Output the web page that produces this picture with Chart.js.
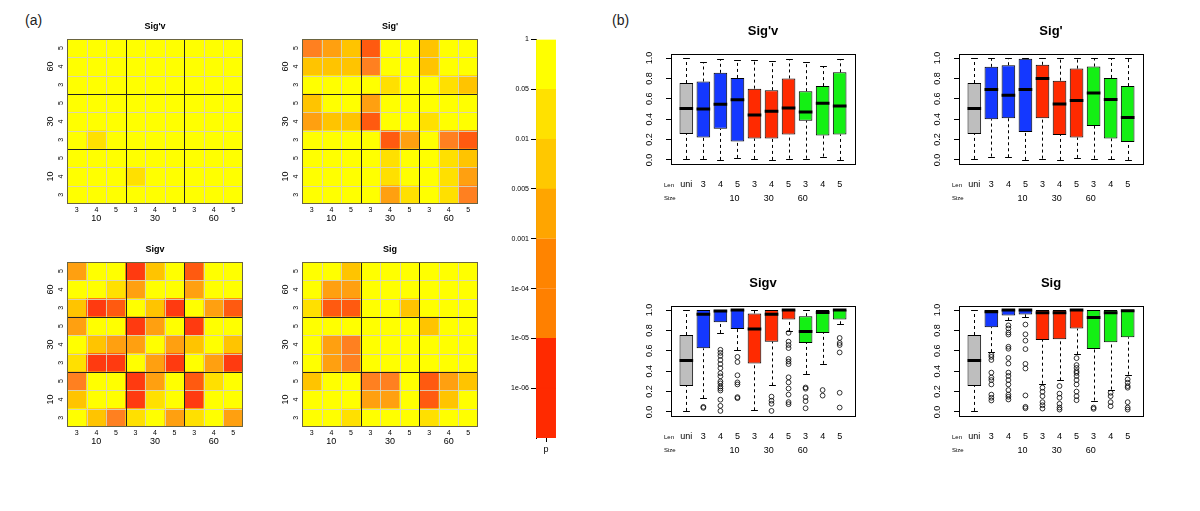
<!DOCTYPE html>
<html>
<head>
<meta charset="utf-8">
<script src="https://cdn.jsdelivr.net/npm/chart.js@4.4.1/dist/chart.umd.min.js"></script>
<style>
  body { margin: 0; background: #fff; width: 1200px; height: 511px; position: relative; overflow: hidden;
         font-family: "Liberation Sans", Arial, sans-serif; }
  canvas { position: absolute; }
  .panel { position: absolute; font-size: 14px; color: #222; }
</style>
</head>
<body>
<div class="panel" style="left:25px; top:12px;">(a)</div>
<div class="panel" style="left:612px; top:12px;">(b)</div>
<script>
// ---- data ----
const groups = ['10', '30', '60'];
const lens = ['3', '4', '5'];
const heatCols = ['3', '4', '5', '3', '4', '5', '3', '4', '5'];
const boxLabels = ['uni', '3', '4', '5', '3', '4', '5', '3', '4', '5'];
const pTicks = ['1', '0.05', '0.01', '0.005', '0.001', '1e-04', '1e-05', '1e-06'];

// colour of each p class (0: p > 0.05 ... 6: p < 1e-05)
const heatColors = ['#FFFF00', '#FFE000', '#FFC400', '#FFA010', '#FF8020', '#FF5A10', '#FF3A10'];
// colour bar segments, top to bottom
const barColors = ['#FFFF00', '#FFE100', '#FFC800', '#FFA500', '#FF8400', '#FF8000', '#FF2A00', '#FF2A00'];
const boxColors = ['#BEBEBE', '#1438FF', '#1438FF', '#1438FF', '#FF2A00', '#FF2A00', '#FF2A00', '#14F014', '#14F014', '#14F014'];

// p class per cell; rows top->bottom (60/5 ... 10/3), columns left->right (10/3 ... 60/5)
const heatSigPv = [
  [0, 0, 0, 0, 0, 0, 0, 0, 0],
  [0, 0, 0, 0, 0, 0, 0, 0, 0],
  [0, 0, 0, 0, 0, 0, 0, 0, 0],
  [0, 0, 0, 0, 0, 0, 0, 0, 0],
  [0, 0, 0, 0, 0, 0, 0, 0, 0],
  [0, 1, 0, 0, 0, 0, 0, 0, 0],
  [0, 0, 0, 0, 0, 0, 0, 0, 0],
  [0, 0, 0, 1, 0, 0, 0, 0, 0],
  [0, 0, 0, 0, 0, 0, 0, 0, 0]
];
const heatSigP = [
  [4, 3, 2, 5, 0, 0, 2, 0, 0],
  [2, 2, 2, 4, 0, 0, 2, 0, 0],
  [0, 0, 0, 0, 1, 0, 0, 1, 2],
  [2, 0, 0, 3, 0, 0, 0, 0, 0],
  [3, 2, 2, 5, 0, 0, 1, 0, 0],
  [0, 0, 0, 0, 5, 3, 0, 4, 5],
  [0, 0, 0, 0, 1, 0, 0, 1, 2],
  [0, 0, 0, 0, 1, 0, 0, 1, 3],
  [0, 0, 0, 0, 3, 1, 0, 1, 4]
];
const heatSigv = [
  [3, 0, 0, 6, 2, 0, 5, 0, 0],
  [0, 0, 1, 3, 0, 0, 3, 0, 0],
  [2, 6, 5, 0, 2, 6, 0, 3, 5],
  [3, 0, 0, 6, 3, 0, 6, 0, 0],
  [0, 2, 3, 3, 0, 3, 2, 0, 2],
  [1, 6, 6, 0, 3, 6, 0, 3, 6],
  [4, 0, 0, 6, 3, 0, 5, 1, 0],
  [2, 0, 0, 6, 1, 0, 6, 0, 0],
  [0, 2, 4, 1, 0, 3, 1, 0, 3]
];
const heatSig = [
  [0, 0, 2, 0, 0, 0, 0, 0, 0],
  [0, 3, 3, 0, 0, 0, 0, 0, 0],
  [1, 5, 5, 0, 0, 2, 0, 0, 0],
  [0, 0, 0, 0, 0, 0, 2, 0, 0],
  [0, 3, 4, 0, 0, 0, 0, 0, 0],
  [0, 3, 4, 0, 0, 0, 0, 0, 0],
  [2, 0, 0, 4, 4, 0, 5, 3, 2],
  [0, 0, 0, 3, 3, 0, 5, 2, 0],
  [0, 0, 1, 0, 0, 0, 1, 0, 0]
];

// box stats: [lower whisker, Q1, median, Q3, upper whisker]
const boxSigPv = [
  [0.01, 0.255, 0.505, 0.755, 1.0],
  [0.01, 0.22, 0.50, 0.77, 0.96],
  [0.0, 0.305, 0.546, 0.855, 0.99],
  [0.02, 0.18, 0.59, 0.805, 0.98],
  [0.01, 0.21, 0.44, 0.70, 0.977],
  [0.0, 0.21, 0.477, 0.685, 0.967],
  [0.013, 0.25, 0.51, 0.80, 0.987],
  [0.013, 0.385, 0.47, 0.675, 0.96],
  [0.033, 0.24, 0.556, 0.725, 0.92],
  [0.0, 0.25, 0.53, 0.86, 0.987]
];
const boxSigP = [
  [0.01, 0.255, 0.505, 0.755, 1.0],
  [0.033, 0.40, 0.692, 0.914, 1.0],
  [0.026, 0.41, 0.636, 0.93, 1.0],
  [0.0, 0.275, 0.692, 0.993, 1.0],
  [0.013, 0.41, 0.80, 0.934, 1.0],
  [0.0, 0.245, 0.55, 0.778, 1.0],
  [0.02, 0.22, 0.583, 0.897, 1.0],
  [0.013, 0.334, 0.656, 0.917, 1.0],
  [0.007, 0.21, 0.593, 0.805, 1.0],
  [0.0, 0.175, 0.417, 0.725, 1.0]
];
const boxSigv = [
  [0.01, 0.255, 0.505, 0.755, 1.0],
  [0.135, 0.624, 0.96, 1.0, 1.0],
  [0.775, 0.88, 0.99, 1.0, 1.0],
  [0.607, 0.815, 1.0, 1.0, 1.0],
  [0.016, 0.475, 0.815, 0.967, 1.0],
  [0.26, 0.69, 0.96, 1.0, 1.0],
  [0.795, 0.908, 1.0, 1.0, 1.0],
  [0.373, 0.677, 0.79, 0.94, 1.0],
  [0.472, 0.776, 0.977, 1.0, 1.0],
  [0.861, 0.908, 1.0, 1.0, 1.0]
];
const boxSig = [
  [0.01, 0.255, 0.505, 0.755, 1.0],
  [0.587, 0.832, 0.983, 1.0, 1.0],
  [0.898, 0.947, 1.0, 1.0, 1.0],
  [0.93, 0.957, 1.0, 1.0, 1.0],
  [0.277, 0.706, 0.974, 1.0, 1.0],
  [0.31, 0.713, 0.974, 1.0, 1.0],
  [0.564, 0.818, 1.0, 1.0, 1.0],
  [0.112, 0.617, 0.927, 1.0, 1.0],
  [0.22, 0.683, 0.974, 1.0, 1.0],
  [0.366, 0.733, 0.993, 1.0, 1.0]
];

// outliers per box
const outSigPv = [[], [], [], [], [], [], [], [], [], []];
const outSigP = [[], [], [], [], [], [], [], [], [], []];
const outSigv = [
  [],
  [0.05, 0.04],
  [0.61, 0.58, 0.55, 0.51, 0.47, 0.43, 0.38, 0.35, 0.30, 0.28, 0.25, 0.23, 0.21, 0.12, 0.06, 0.01],
  [0.54, 0.49, 0.36, 0.29, 0.27, 0.145, 0.135],
  [],
  [0.15, 0.11, 0.08, 0.01],
  [0.776, 0.69, 0.657, 0.627, 0.52, 0.495, 0.47, 0.34, 0.29, 0.23, 0.17, 0.096, 0.076],
  [0.24, 0.228, 0.145, 0.106, 0.036],
  [0.215, 0.16],
  [0.726, 0.677, 0.657, 0.584, 0.188, 0.043]
];
const outSig = [
  [],
  [0.56, 0.54, 0.51, 0.386, 0.337, 0.313, 0.27, 0.17, 0.139, 0.112],
  [0.85, 0.82, 0.78, 0.76, 0.64, 0.62, 0.53, 0.475, 0.386, 0.353, 0.313, 0.27, 0.215, 0.17, 0.149, 0.122],
  [0.858, 0.762, 0.70, 0.617, 0.472, 0.426, 0.162, 0.05, 0.036],
  [0.238, 0.198, 0.155, 0.096, 0.066, 0.033],
  [0.254, 0.18, 0.139, 0.08, 0.043, 0.023],
  [0.528, 0.46, 0.432, 0.40, 0.383, 0.353, 0.313, 0.27, 0.2, 0.155, 0.115],
  [0.043, 0.03],
  [0.188, 0.155, 0.096, 0.056],
  [0.32, 0.287, 0.254, 0.238, 0.096, 0.043, 0.023]
];

// ---- setup ----
const FONT = '"Liberation Sans", Arial, sans-serif';
Chart.defaults.font.family = FONT;
Chart.defaults.color = '#000';
Chart.defaults.animation = false;
Chart.defaults.events = [];
Chart.defaults.plugins.legend.display = false;
Chart.defaults.plugins.tooltip.enabled = false;

function makeCanvas(left, top, w, h) {
  const c = document.createElement('canvas');
  c.width = w; c.height = h;
  c.style.left = left + 'px'; c.style.top = top + 'px';
  c.style.width = w + 'px'; c.style.height = h + 'px';
  document.body.appendChild(c);
  return c;
}

function rotText(ctx, txt, x, y, font) {
  ctx.save();
  ctx.translate(x, y);
  ctx.rotate(-Math.PI / 2);
  ctx.font = font;
  ctx.textAlign = 'center';
  ctx.textBaseline = 'middle';
  ctx.fillText(txt, 0, 0);
  ctx.restore();
}

const noGrid = { display: false, drawTicks: false };
const noBorder = { display: false };

// ---- heatmaps ----
function heatPlugin(title) {
  return {
    id: 'heatFrame',
    afterDatasetsDraw(chart) {
      const { ctx, chartArea: a, scales: { x, y } } = chart;
      ctx.save();
      ctx.lineWidth = 1;
      ctx.strokeStyle = 'rgba(215,210,190,0.9)';
      ctx.beginPath();
      for (let k = 1; k < 9; k++) {
        if (k % 3 === 0) continue;
        const px = Math.round(x.getPixelForValue(k - 0.5)) + 0.5;
        const py = Math.round(y.getPixelForValue(k)) + 0.5;
        ctx.moveTo(px, a.top); ctx.lineTo(px, a.bottom);
        ctx.moveTo(a.left, py); ctx.lineTo(a.right, py);
      }
      ctx.stroke();
      ctx.strokeStyle = '#222';
      ctx.beginPath();
      [3, 6].forEach(k => {
        const px = Math.round(x.getPixelForValue(k - 0.5)) + 0.5;
        const py = Math.round(y.getPixelForValue(k)) + 0.5;
        ctx.moveTo(px, a.top); ctx.lineTo(px, a.bottom);
        ctx.moveTo(a.left, py); ctx.lineTo(a.right, py);
      });
      ctx.stroke();
      ctx.strokeStyle = '#6a6440';
      ctx.strokeRect(Math.round(a.left) + 0.5, Math.round(a.top) + 0.5, Math.round(a.width) - 1, Math.round(a.height) - 1);
      ctx.fillStyle = '#000';
      for (let r = 0; r < 9; r++) {
        rotText(ctx, lens[r % 3], a.left - 6, y.getPixelForValue(r + 0.5), '7px ' + FONT);
      }
      groups.forEach((g, i) => {
        rotText(ctx, g, a.left - 16, y.getPixelForValue(i * 3 + 1.5), '9px ' + FONT);
      });
      ctx.font = 'bold 9px ' + FONT;
      ctx.textAlign = 'center';
      ctx.textBaseline = 'middle';
      ctx.fillText(title, (a.left + a.right) / 2, a.top - 12);
      ctx.restore();
    }
  };
}

function heatmap(left, top, title, cells) {
  const datasets = [];
  for (let r = 8; r >= 0; r--) {
    datasets.push({
      data: cells[r].map(() => 1),
      backgroundColor: cells[r].map(v => heatColors[v]),
      borderWidth: 0,
      barPercentage: 1,
      categoryPercentage: 1
    });
  }
  const groupRow = [];
  groups.forEach(g => groupRow.push('', g, ''));
  new Chart(makeCanvas(left, top, 240, 225), {
    type: 'bar',
    data: { labels: heatCols, datasets },
    options: {
      responsive: false,
      layout: { padding: { left: 47, right: 17, top: 24, bottom: 15 } },
      scales: {
        x: {
          stacked: true, grid: noGrid, border: noBorder,
          ticks: { font: { size: 7 }, padding: 2, maxRotation: 0, autoSkip: false },
          afterFit: s => { s.height = 9; }
        },
        x2: {
          type: 'category', position: 'bottom', labels: groupRow, grid: noGrid, border: noBorder,
          ticks: { font: { size: 9 }, padding: 0, maxRotation: 0, autoSkip: false },
          afterFit: s => { s.height = 12; }
        },
        y: { stacked: true, display: false, min: 0, max: 9 }
      }
    },
    plugins: [heatPlugin(title)]
  });
}

heatmap(20, 15, "Sig'v", heatSigPv);
heatmap(255, 15, "Sig'", heatSigP);
heatmap(20, 238, 'Sigv', heatSigv);
heatmap(255, 238, 'Sig', heatSig);

// ---- colour bar ----
new Chart(makeCanvas(490, 25, 80, 440), {
  type: 'bar',
  data: {
    labels: ['p'],
    datasets: barColors.slice().reverse().map(c => ({
      data: [1], backgroundColor: c, borderColor: c, borderWidth: 0.5,
      barPercentage: 1, categoryPercentage: 1
    }))
  },
  options: {
    responsive: false,
    layout: { padding: { left: 0, right: 14, top: 14.5, bottom: 0 } },
    scales: {
      x: {
        stacked: true,
        grid: { display: true, drawOnChartArea: false, drawTicks: true, tickLength: 4, color: '#000', offset: false },
        border: noBorder,
        ticks: { font: { size: 9 }, padding: 2 },
        afterFit: s => { s.height = 27; }
      },
      y: {
        stacked: true, min: 0, max: 8, bounds: 'data',
        afterBuildTicks: s => { s.ticks = pTicks.map((t, i) => ({ value: 8 - i })); },
        ticks: { callback: (v, i) => pTicks[i], font: { size: 7 }, padding: 2, autoSkip: false },
        grid: { drawOnChartArea: false, tickLength: 5, color: '#000' },
        border: { display: true, color: '#000' },
        afterFit: s => { s.width = 46; }
      }
    }
  }
});

// ---- box plots ----
function boxPlugin(title, stats) {
  return {
    id: 'boxParts',
    beforeDatasetsDraw(chart) {
      const { ctx, scales: { x, y } } = chart;
      const bars = chart.getDatasetMeta(0).data;
      ctx.save();
      ctx.strokeStyle = '#000';
      ctx.lineWidth = 1;
      stats.forEach((s, i) => {
        const cx = Math.round(x.getPixelForValue(i + 1)) + 0.5;
        const half = bars[i].width / 4;
        ctx.setLineDash([3, 3]);
        ctx.beginPath();
        ctx.moveTo(cx, y.getPixelForValue(s[0])); ctx.lineTo(cx, y.getPixelForValue(s[1]));
        ctx.moveTo(cx, y.getPixelForValue(s[3])); ctx.lineTo(cx, y.getPixelForValue(s[4]));
        ctx.stroke();
        ctx.setLineDash([]);
        ctx.beginPath();
        [s[0], s[4]].forEach(v => {
          const py = Math.round(y.getPixelForValue(v)) + 0.5;
          ctx.moveTo(cx - half, py); ctx.lineTo(cx + half, py);
        });
        ctx.stroke();
      });
      ctx.restore();
    },
    afterDatasetsDraw(chart) {
      const { ctx, chartArea: a, scales: { x, y, x2 } } = chart;
      const bars = chart.getDatasetMeta(0).data;
      ctx.save();
      ctx.strokeStyle = '#000';
      ctx.lineWidth = 3;
      ctx.beginPath();
      stats.forEach((s, i) => {
        const cx = x.getPixelForValue(i + 1);
        const py = y.getPixelForValue(s[2]);
        ctx.moveTo(cx - bars[i].width / 2, py); ctx.lineTo(cx + bars[i].width / 2, py);
      });
      ctx.stroke();
      ctx.lineWidth = 1;
      ctx.strokeRect(Math.round(a.left) + 0.5, Math.round(a.top) + 0.5, Math.round(a.width), Math.round(a.height));
      ctx.fillStyle = '#000';
      [0, 0.2, 0.4, 0.6, 0.8, 1.0].forEach(v => {
        rotText(ctx, v.toFixed(1), a.left - 21, y.getPixelForValue(v), '9px ' + FONT);
      });
      ctx.font = '6px ' + FONT;
      ctx.textAlign = 'left';
      ctx.textBaseline = 'middle';
      ctx.fillText('Len', a.left - 7, a.bottom + 21);
      ctx.fillText('Size', a.left - 7, x2.top + 7.5);
      ctx.font = 'bold 13px ' + FONT;
      ctx.textAlign = 'center';
      ctx.fillText(title, (a.left + a.right) / 2, a.top - 23);
      ctx.restore();
    }
  };
}

function boxplot(left, top, title, stats, outliers) {
  const outPts = [];
  outliers.forEach((arr, i) => arr.forEach(v => outPts.push({ x: i + 1, y: v })));
  new Chart(makeCanvas(left, top, 270, 190), {
    type: 'bar',
    data: {
      datasets: [
        {
          type: 'bar',
          data: stats.map((s, i) => ({ x: i + 1, y: [s[1], s[3]] })),
          backgroundColor: boxColors, borderColor: '#000', borderWidth: 1, borderSkipped: false,
          barPercentage: 0.8, categoryPercentage: 1
        },
        {
          type: 'scatter', data: outPts, pointStyle: 'circle', pointRadius: 2.4,
          borderColor: '#000', borderWidth: 0.8, backgroundColor: 'rgba(0,0,0,0)'
        }
      ]
    },
    options: {
      responsive: false,
      layout: { padding: { left: 49, right: 15, top: 34, bottom: 5 } },
      scales: {
        x: {
          type: 'linear', min: 0.1, max: 10.9, bounds: 'data', offset: false,
          grid: { display: false, drawTicks: false, offset: false }, border: noBorder,
          afterBuildTicks: s => { s.ticks = boxLabels.map((t, i) => ({ value: i + 1 })); },
          ticks: { callback: (v, i) => boxLabels[i], font: { size: 9 }, padding: 15, maxRotation: 0, autoSkip: false },
          afterFit: s => { s.height = 27; }
        },
        x2: {
          type: 'linear', position: 'bottom', min: 0.1, max: 10.9, bounds: 'data',
          grid: noGrid, border: noBorder,
          afterBuildTicks: s => { s.ticks = groups.map((g, i) => ({ value: 3 + i * 3 })); },
          ticks: { callback: (v, i) => groups[i], font: { size: 9 }, padding: 2, maxRotation: 0, autoSkip: false },
          afterFit: s => { s.height = 14; }
        },
        y: {
          min: -0.04, max: 1.04, bounds: 'data',
          afterBuildTicks: s => { s.ticks = [0, 0.2, 0.4, 0.6, 0.8, 1.0].map(v => ({ value: v })); },
          ticks: { display: false },
          grid: { display: true, drawOnChartArea: false, drawTicks: true, tickLength: 5, color: '#000' },
          border: { display: true, color: '#000' },
          afterFit: s => { s.width = 22; }
        }
      }
    },
    plugins: [boxPlugin(title, stats)]
  });
}

boxplot(600, 20, "Sig'v", boxSigPv, outSigPv);
boxplot(888, 20, "Sig'", boxSigP, outSigP);
boxplot(600, 272, 'Sigv', boxSigv, outSigv);
boxplot(888, 272, 'Sig', boxSig, outSig);
</script>
</body>
</html>
